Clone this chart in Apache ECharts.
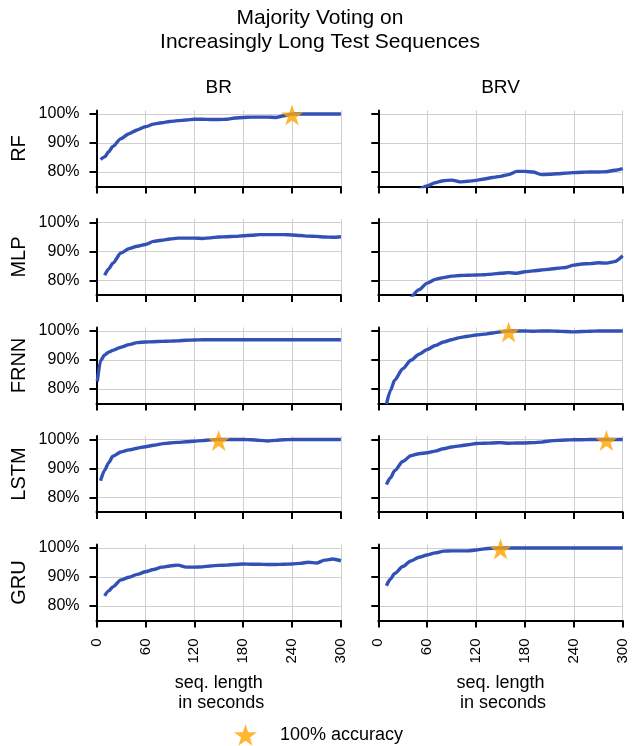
<!DOCTYPE html>
<html><head><meta charset="utf-8">
<script src="https://cdn.jsdelivr.net/npm/echarts@6/dist/echarts.min.js"></script>
<style>html,body{margin:0;padding:0;background:#fff}#c{width:634px;height:746px}</style>
</head><body><div id="c"></div>
<script>
// ---- data ----
const seconds = [1,5,10,15,20,30,40,50,60,70,80,90,100,110,120,130,140,150,160,170,180,190,200,210,220,230,240,250,260,270,280,290,300];
const models = ['RF','MLP','FRNN','LSTM','GRU'];
const datasets = ['BR','BRV'];
const xTicks = [0,60,120,180,240,300];
const yTicks = [80,90,100];

const rfBR   = [null,84.3,85.2,87.0,88.8,91.5,93.2,94.5,95.6,96.5,97.0,97.4,97.7,97.9,98.2,98.2,98.1,98.1,98.2,98.6,98.8,98.9,98.9,98.9,98.8,99.4,100,100,100,100,100,100,100];
const rfBRV  = [null,null,null,null,null,null,null,73.8,75.2,76.3,77.0,77.2,76.6,76.8,77.1,77.6,78.1,78.5,79.1,80.2,80.2,80.0,79.1,79.2,79.4,79.6,79.8,79.9,80.0,80.0,80.1,80.6,81.2];
const mlpBR  = [null,null,81.8,84.0,86.0,89.5,91.0,91.8,92.4,93.5,93.9,94.3,94.6,94.6,94.6,94.5,94.7,95.0,95.1,95.2,95.4,95.6,95.8,95.8,95.8,95.8,95.7,95.5,95.3,95.2,95.0,94.9,95.1];
const mlpBRV = [null,null,null,null,null,null,73.8,76.8,79.1,80.4,81.0,81.5,81.7,81.8,81.9,82.0,82.2,82.5,82.7,82.5,83.0,83.3,83.6,83.9,84.2,84.5,85.3,85.7,85.8,86.1,86.0,86.5,88.5];
const frnnBR = [82.6,89.8,91.7,92.7,93.3,94.4,95.3,96.0,96.2,96.3,96.4,96.5,96.6,96.8,96.9,97.0,97.0,97.0,97.0,97.0,97.0,97.0,97.0,97.0,97.0,97.0,97.0,97.0,97.0,97.0,97.0,97.0,97.0];
const frnnBRV= [null,null,74.8,79.5,83.0,87.0,89.9,92.0,93.6,95.0,96.2,97.0,97.7,98.2,98.6,98.9,99.3,99.7,100,100,100,99.9,100,100,99.9,99.8,99.7,99.8,99.9,100,100,100,100];
const lstmBR = [null,85.8,89.4,92.0,94.2,95.7,96.4,97.0,97.5,98.0,98.5,98.8,99.0,99.2,99.4,99.6,99.9,100,100,100,100,99.9,99.7,99.5,99.7,99.9,100,100,100,100,100,100,100];
const lstmBRV= [null,null,84.5,86.8,89.2,92.4,94.4,95.1,95.4,96.0,96.8,97.4,97.8,98.2,98.6,98.7,98.8,98.9,98.7,98.8,98.8,98.9,99.1,99.5,99.7,99.8,99.9,99.9,100,100,100,100,100];
const gruBR  = [null,null,83.5,85.2,86.6,89.0,89.9,90.9,91.8,92.6,93.4,93.8,94.1,93.4,93.4,93.5,93.8,94.0,94.1,94.3,94.5,94.4,94.4,94.3,94.3,94.4,94.5,94.7,95.1,94.8,95.8,96.2,95.6];
const gruBRV = [null,null,87.0,89.3,91.2,93.6,95.5,96.8,97.6,98.3,98.9,99.0,99.0,99.0,99.3,99.7,99.9,100,100,100,100,100,100,100,100,100,100,100,100,100,100,100,100];

// seconds at which 100% accuracy is first reached (null = never)
const starBR  = [240, null, null, 150, null];
const starBRV = [null, null, 160, 280, 150];

const accuracy = [[rfBR,rfBRV],[mlpBR,mlpBRV],[frnnBR,frnnBRV],[lstmBR,lstmBRV],[gruBR,gruBRV]];
const stars = [starBR, starBRV];

// ---- layout ----
const FONT = '"Liberation Sans", Arial, Helvetica, sans-serif';
const colLeft = [96.5, 378.3];
const colW = 244.4;
const rowTop = [110.5, 219, 327.5, 436, 544.5];
const rowH = 76;
const LINE = '#3251b6';
const STAR = '#ffa500';
const starPath = 'path://M0,-100L22.45,-30.9L95.11,-30.9L36.33,11.8L58.78,80.9L0,38.2L-58.78,80.9L-36.33,11.8L-95.11,-30.9L-22.45,-30.9Z';

const grids = [], xAxes = [], yAxes = [], series = [], graphics = [];
let gi = 0;
models.forEach((m, r) => {
  datasets.forEach((d, c) => {
    grids.push({left: colLeft[c], top: rowTop[r], width: colW, height: rowH});
    const bottom = r === models.length - 1;
    xAxes.push({
      gridIndex: gi, type: 'value', min: 0, max: 300, interval: 60,
      axisLine: {show: true, onZero: false, lineStyle: {color: '#000', width: 2}},
      axisTick: {show: true, length: 7, lineStyle: {color: '#000', width: 2}},
      axisLabel: {show: bottom, rotate: 90, margin: 18, fontSize: 15, color: '#000', fontFamily: FONT},
      splitLine: {show: true, lineStyle: {color: '#cfcfcf', width: 1}},
      name: bottom ? 'seq. length\n in seconds' : '',
      nameLocation: 'middle', nameGap: 53,
      nameTextStyle: {fontSize: 18, lineHeight: 20, color: '#000', fontFamily: FONT}
    });
    yAxes.push({
      gridIndex: gi, type: 'value', min: 75, max: 101.2,
      axisLine: {show: true, lineStyle: {color: '#000', width: 2}},
      axisTick: {show: true, length: 7, customValues: yTicks, lineStyle: {color: '#000', width: 2}},
      axisLabel: {show: c === 0, customValues: yTicks, margin: 17, fontSize: 16, color: '#000', fontFamily: FONT,
                  formatter: v => v + '%'},
      splitLine: {show: true, lineStyle: {color: '#cfcfcf', width: 1}}
    });
    series.push({
      type: 'line', xAxisIndex: gi, yAxisIndex: gi, name: m + ' ' + d,
      data: seconds.map((s, i) => [s, accuracy[r][c][i]]),
      showSymbol: false, connectNulls: false, smooth: 0.25, smoothMonotone: 'x',
      lineStyle: {color: LINE, width: 3.4}, itemStyle: {color: LINE}, z: 3, clip: true, silent: true
    });
    const st = stars[c][r];
    series.push({
      type: 'scatter', xAxisIndex: gi, yAxisIndex: gi, name: '100% accuracy',
      data: st === null ? [] : [[st, 100]],
      symbol: starPath, symbolSize: [22, 21], symbolOffset: [0, 1],
      itemStyle: {color: STAR}, z: 5, clip: false, silent: true
    });
    gi++;
  });
  graphics.push({type: 'text', x: 19, y: rowTop[r] + rowH / 2, rotation: Math.PI / 2,
    style: {text: m, font: '20px ' + FONT, fill: '#000', align: 'center', verticalAlign: 'middle'}});
});
datasets.forEach((d, c) => {
  graphics.push({type: 'text', x: colLeft[c] + colW / 2, y: 88,
    style: {text: d, font: '19px ' + FONT, fill: '#000', align: 'center', verticalAlign: 'middle'}});
});
graphics.push({type: 'text', x: 320, y: 6,
  style: {text: 'Majority Voting on\nIncreasingly Long Test Sequences', font: '21px ' + FONT, lineHeight: 24,
          fill: '#000', align: 'center', verticalAlign: 'top'}});

const chart = echarts.init(document.getElementById('c'), null, {renderer: 'canvas'});
chart.setOption({
  animation: false,
  backgroundColor: '#fff',
  grid: grids, xAxis: xAxes, yAxis: yAxes, series: series,
  legend: {data: [{name: '100% accuracy', icon: starPath}], left: 234, top: 724, padding: 0,
    itemWidth: 23, itemHeight: 22, textStyle: {fontSize: 18, color: '#000', fontFamily: FONT, padding: [2, 0, 0, 18]},
    selectedMode: false},
  graphic: graphics
});
</script></body></html>
